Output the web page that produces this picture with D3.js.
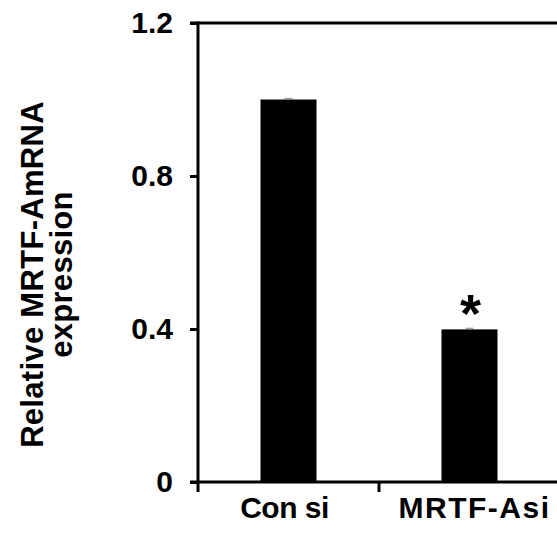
<!DOCTYPE html>
<html>
<head>
<meta charset="utf-8">
<script src="https://cdn.jsdelivr.net/npm/d3@7"></script>
<style>
  body { margin: 0; background: #fff; }
  svg text { font-family: "Liberation Sans", Arial, sans-serif; font-weight: bold; fill: #000; }
</style>
</head>
<body>
<div id="chart"></div>
<script>
// chart data
const categories = ["Con si", "MRTF-Asi"];
const values = [1.0, 0.399];
const errors = [0.003, 0.003];
const significance = ["", "*"];
const yTicks = [0, 0.4, 0.8, 1.2];

// margin conventions
const totalWidth = 557, totalHeight = 533;
const margin = {top: 23, right: -3, bottom: 51, left: 198};
const width = totalWidth - margin.left - margin.right;
const height = totalHeight - margin.top - margin.bottom;

const svg = d3.select("#chart").append("svg")
    .attr("width", totalWidth)
    .attr("height", totalHeight)
    .append("g")
    .attr("transform", "translate(" + margin.left + "," + margin.top + ")");

// scales
const x = d3.scaleBand()
    .domain(categories)
    .range([0, width])
    .padding(0);

const y = d3.scaleLinear()
    .domain([0, 1.2])
    .range([height, 0]);

const barWidth = 56;

// bars
svg.selectAll(".bar")
    .data(categories)
    .enter()
    .append("rect")
    .attr("class", "bar")
    .attr("x", d => x(d) + x.bandwidth() / 2 - barWidth / 2)
    .attr("width", barWidth)
    .attr("y", (d, i) => y(values[i]))
    .attr("height", (d, i) => height - y(values[i]))
    .attr("fill", "#000");

// error bars (very small)
const err = svg.selectAll(".err")
    .data(categories)
    .enter()
    .append("g")
    .attr("class", "err")
    .attr("stroke", "#888")
    .attr("stroke-width", 1);

err.append("line")
    .attr("x1", d => x(d) + x.bandwidth() / 2)
    .attr("x2", d => x(d) + x.bandwidth() / 2)
    .attr("y1", (d, i) => y(values[i] + errors[i]))
    .attr("y2", (d, i) => y(values[i]));

err.append("line")
    .attr("x1", d => x(d) + x.bandwidth() / 2 - 4)
    .attr("x2", d => x(d) + x.bandwidth() / 2 + 4)
    .attr("y1", (d, i) => y(values[i] + errors[i]))
    .attr("y2", (d, i) => y(values[i] + errors[i]));

// significance marks
svg.selectAll(".sig")
    .data(categories)
    .enter()
    .append("text")
    .attr("class", "sig")
    .attr("x", d => x(d) + x.bandwidth() / 2 + 1)
    .attr("y", (d, i) => y(values[i]) + 3)
    .attr("text-anchor", "middle")
    .style("font-size", "54px")
    .text((d, i) => significance[i]);

// y axis
const yAxis = svg.append("g")
    .attr("class", "y-axis")
    .call(d3.axisLeft(y).tickValues(yTicks).tickSize(8).tickPadding(17)
        .tickFormat(d => d === 0 ? "0" : d3.format(".1f")(d)));

yAxis.select(".domain").remove();
yAxis.selectAll("line").attr("stroke", "#000").attr("stroke-width", 3);
yAxis.selectAll("text").style("font-size", "30px");

// left axis line extends down to bottom tick
svg.append("line")
    .attr("x1", 0).attr("x2", 0)
    .attr("y1", y(1.2) - 1.5)
    .attr("y2", height + 10)
    .attr("stroke", "#000")
    .attr("stroke-width", 3);

// top frame line
svg.append("line")
    .attr("x1", -8).attr("x2", width)
    .attr("y1", y(1.2)).attr("y2", y(1.2))
    .attr("stroke", "#000")
    .attr("stroke-width", 3);

// x axis with ticks at band boundaries
const xAxis = svg.append("g")
    .attr("class", "x-axis")
    .attr("transform", "translate(0," + height + ")");

xAxis.append("line")
    .attr("x1", -8).attr("x2", width)
    .attr("stroke", "#000")
    .attr("stroke-width", 3);

xAxis.selectAll(".xtick")
    .data(categories)
    .enter()
    .append("line")
    .attr("class", "xtick")
    .attr("x1", d => x(d) + x.bandwidth())
    .attr("x2", d => x(d) + x.bandwidth())
    .attr("y1", 0).attr("y2", 10)
    .attr("stroke", "#000")
    .attr("stroke-width", 3);

xAxis.selectAll(".xlabel")
    .data(categories)
    .enter()
    .append("text")
    .attr("class", "xlabel")
    .attr("x", (d, i) => x(d) + x.bandwidth() / 2 + (i === 0 ? -4 : 5))
    .attr("y", 36)
    .attr("text-anchor", "middle")
    .style("font-size", "30px")
    .style("letter-spacing", (d, i) => i === 0 ? "-0.5px" : "1.5px")
    .text(d => d);

// y axis title
const yTitle = svg.append("text")
    .attr("transform", "translate(" + (-155) + "," + (height / 2 + 22) + ") rotate(-90)")
    .attr("text-anchor", "middle")
    .style("font-size", "31px")
    .style("letter-spacing", "0.3px");

yTitle.append("tspan").attr("x", 0).attr("dy", 0).text("Relative MRTF-AmRNA");
yTitle.append("tspan").attr("x", 0).attr("dy", 29).text("expression");
</script>
</body>
</html>
